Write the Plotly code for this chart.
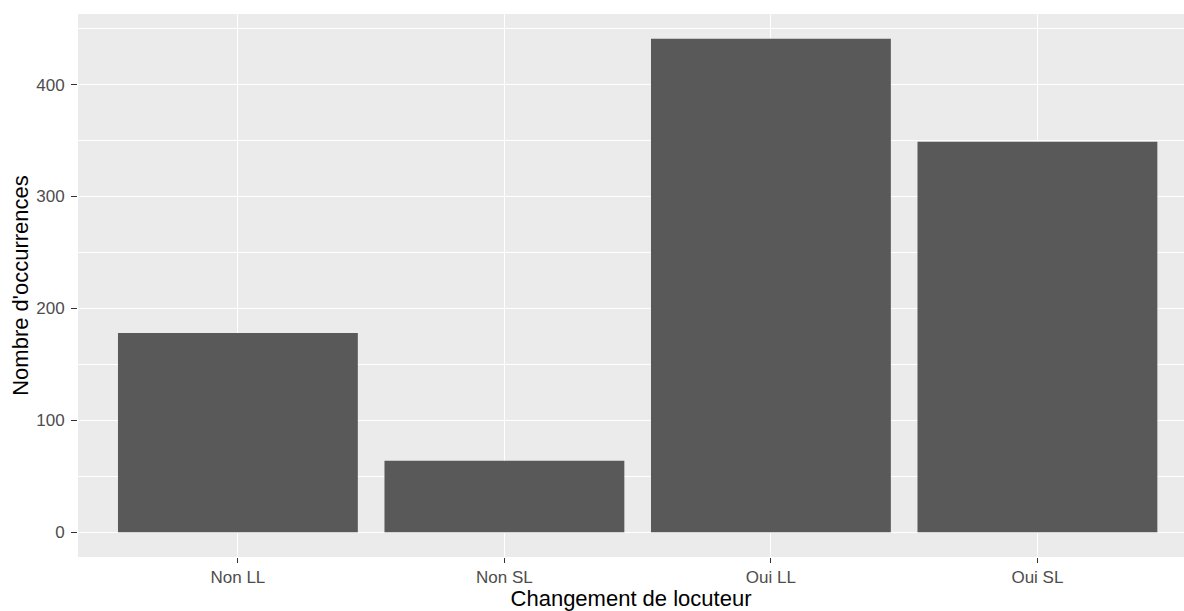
import plotly.graph_objects as go

categories = ["Non LL", "Non SL", "Oui LL", "Oui SL"]
counts = [178, 64, 441, 349]
y_ticks = [0, 100, 200, 300, 400]
x_title = "Changement de locuteur"
y_title = "Nombre d'occurrences"

FONT = "Arial, 'Liberation Sans', sans-serif"

fig = go.Figure(
    go.Bar(
        x=categories,
        y=counts,
        width=0.9,
        marker=dict(color="#595959", line=dict(width=0)),
        hoverinfo="x+y",
    )
)

fig.update_layout(
    width=1184,
    height=611,
    margin=dict(l=78, r=0, t=14, b=54, pad=0, autoexpand=False),
    paper_bgcolor="white",
    plot_bgcolor="#EBEBEB",
    showlegend=False,
    font=dict(family=FONT),
)

fig.update_xaxes(
    type="category",
    categoryorder="array",
    categoryarray=categories,
    range=[-0.6, 3.55],
    automargin=False,
    showgrid=True,
    gridcolor="white",
    gridwidth=1.1,
    zeroline=False,
    showline=False,
    ticks="outside",
    ticklen=5,
    tickwidth=1.1,
    tickcolor="#333333",
    tickfont=dict(size=17, color="#4D4D4D"),
    title=dict(text=x_title, font=dict(size=22, color="black"), standoff=8),
)

fig.update_yaxes(
    range=[-22.05, 463.05],
    automargin=False,
    tickmode="array",
    tickvals=y_ticks,
    ticktext=[str(v) for v in y_ticks],
    showgrid=True,
    gridcolor="white",
    gridwidth=1.1,
    zeroline=False,
    showline=False,
    ticks="outside",
    ticklen=6,
    tickwidth=1.1,
    tickcolor="#333333",
    ticklabelstandoff=3,
    tickfont=dict(size=17, color="#4D4D4D"),
    minor=dict(tickvals=[50, 150, 250, 350, 450], showgrid=True, gridcolor="white", gridwidth=0.55, ticklen=0),
    title=dict(text=y_title, font=dict(size=22, color="black"), standoff=1),
)

fig.write_html(
    "out.html",
    config={"displayModeBar": False},
    post_script="document.body.style.margin='0';document.body.style.overflow='hidden';",
)
